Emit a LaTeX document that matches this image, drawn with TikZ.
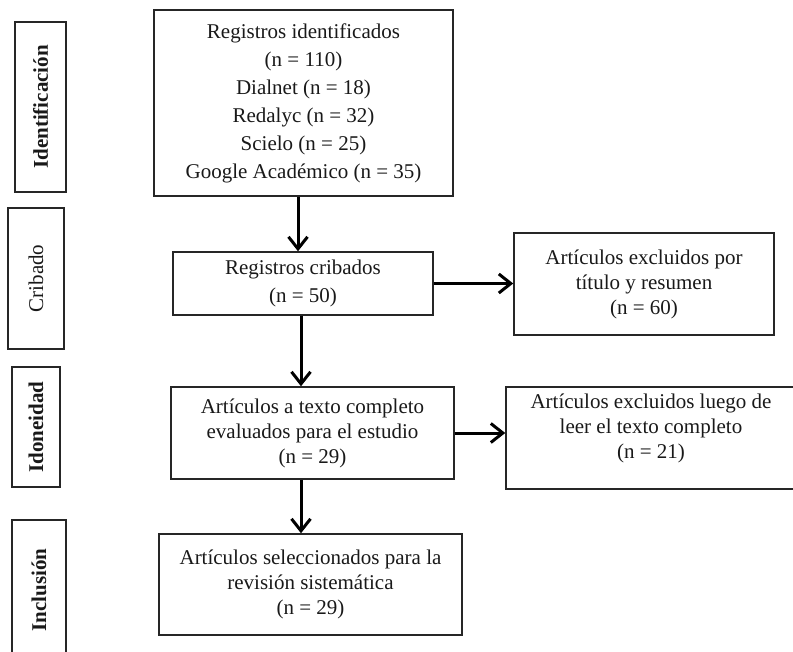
\documentclass[tikz,border=0pt]{standalone}
\usepackage{fontspec}
\setmainfont{Liberation Serif}
\usetikzlibrary{arrows.meta}

\tikzset{
	caja/.style={draw=black!85, line width=0.75pt, align=center, inner sep=2pt, text=black!90, font=\fontsize{10.5}{12.5}\selectfont},
	fase/.style={caja, rotate=90, font=\bfseries\fontsize{10.5}{12}\selectfont},
	flecha/.style={line width=1.5pt, -{Straight Barb[length=6pt,width=9.5pt]}}
}

\begin{document}
\begin{tikzpicture}[x=0.5pt, y=-0.5pt]
	\useasboundingbox (0,0) rectangle (793,652);
	% fases
	\node[fase, minimum width=85pt, minimum height=25.5pt] (ident) at (40.5,107) {Identificación};
	\node[fase, font=\fontsize{10.5}{12}\selectfont, minimum width=70.5pt, minimum height=28pt] (crib) at (36,278.5) {Cribado};
	\node[fase, minimum width=60pt, minimum height=24pt] (idon) at (36,427) {Idoneidad};
	\node[fase, minimum width=70pt, minimum height=27pt] (incl) at (39,590) {Inclusión};
	% registros
	\node[caja, font=\fontsize{10.5}{14}\selectfont, minimum width=149.5pt, minimum height=93pt] (b1) at (303.5,103)
		{Registros identificados\\(n = 110)\\Dialnet (n = 18)\\Redalyc (n = 32)\\Scielo (n = 25)\\Google Académico (n = 35)};
	\node[caja, font=\fontsize{10.5}{14}\selectfont, minimum width=130pt, minimum height=31.5pt] (b2) at (303,283.5)
		{Registros cribados\\(n = 50)};
	\node[caja, minimum width=130pt, minimum height=51pt] (e1) at (644,284)
		{Artículos excluidos por\\título y resumen\\(n = 60)};
	\node[caja, minimum width=141.5pt, minimum height=46pt] (b3) at (312.5,433)
		{Artículos a texto completo\\evaluados para el estudio\\(n = 29)};
	\node[caja, minimum width=145pt, minimum height=51pt] (e2) at (651,438)
		{Artículos excluidos luego de\\leer el texto completo\\(n = 21)\\[-1pt]};
	\node[caja, minimum width=151.5pt, minimum height=50.5pt] (b4) at (310.5,584.5)
		{Artículos seleccionados para la\\revisión sistemática\\(n = 29)};
	% flechas
	\draw[flecha] ([xshift=-2.75pt]b1.south) -- ([xshift=-2.75pt]b1.south |- b2.north);
	\draw[flecha] (b2.east) -- (b2.east -| e1.west);
	\draw[flecha] ([xshift=-1pt]b2.south) -- ([xshift=-1pt]b2.south |- b3.north);
	\draw[flecha] ([xshift=-1pt]b2.south |- b3.south) -- ([xshift=-1pt]b2.south |- b4.north);
	\draw[flecha] (b3.east) -- (b3.east -| e2.west);
\end{tikzpicture}
\end{document}
